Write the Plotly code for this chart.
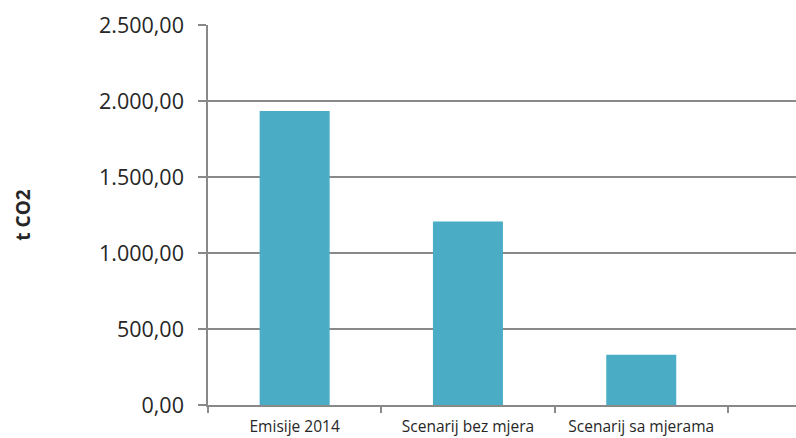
import plotly.graph_objects as go

categories = ["Emisije 2014", "Scenarij bez mjera", "Scenarij sa mjerama"]
values = [1935, 1207, 331]
y_ticks = [0, 500, 1000, 1500, 2000, 2500]

axis_gray = "#898989"

fig = go.Figure(
    go.Bar(
        x=categories,
        y=values,
        marker=dict(color="#4BACC6", line=dict(width=0)),
        width=0.404,
    )
)

fig.update_layout(
    width=796,
    height=438,
    margin=dict(l=208, r=0, t=25, b=33, autoexpand=False),
    paper_bgcolor="white",
    plot_bgcolor="white",
    separators=",.",
    showlegend=False,
    font=dict(family="Open Sans, Liberation Sans, sans-serif", color="#262626"),
)

fig.update_xaxes(
    range=[-0.5, 2.893],
    automargin=False,
    showgrid=False,
    showline=True,
    linecolor=axis_gray,
    linewidth=1.5,
    ticks="outside",
    tickson="boundaries",
    ticklen=6,
    tickcolor=axis_gray,
    tickwidth=1.5,
    ticklabelstandoff=7,
    tickfont=dict(size=15.5, color="#262626"),
    zeroline=False,
)

fig.update_yaxes(
    range=[0, 2500],
    automargin=False,
    tickvals=y_ticks,
    tickformat=",.2f",
    showgrid=True,
    gridcolor=axis_gray,
    gridwidth=1.5,
    showline=True,
    linecolor=axis_gray,
    linewidth=1.5,
    ticks="outside",
    ticklen=8,
    tickcolor=axis_gray,
    tickwidth=1.5,
    ticklabelstandoff=10,
    tickfont=dict(size=21.5, color="#262626"),
    zeroline=False,
    title=dict(text="<b>t CO2</b>", font=dict(size=19, color="#262626"), standoff=63),
)

fig.write_html(
    "out.html",
    config={"displayModeBar": False},
    post_script="document.body.style.margin='0';document.body.style.overflow='hidden';",
)
